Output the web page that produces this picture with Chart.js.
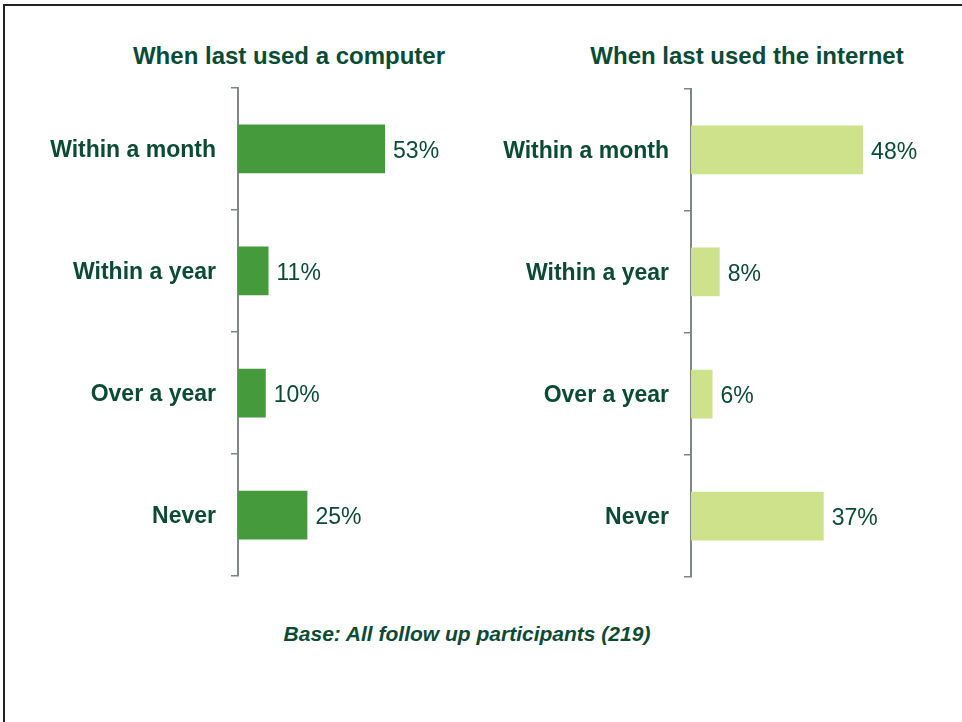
<!DOCTYPE html>
<html>
<head>
<meta charset="utf-8">
<script src="https://cdn.jsdelivr.net/npm/chart.js@4/dist/chart.umd.min.js"></script>
<style>
  body { margin: 0; background: #fff; width: 962px; height: 722px; overflow: hidden; position: relative; font-family: "Liberation Sans", Arial, sans-serif; }
  .frame { position: absolute; left: 3px; top: 4px; width: 980px; height: 740px; border-top: 2px solid #222; border-left: 2px solid #222; }
  .title { position: absolute; top: 44px; font-weight: bold; font-size: 24px; line-height: 1; color: #0b4b36; white-space: nowrap; transform: translateX(-50%); }
  .foot { position: absolute; top: 623px; left: 467px; font-weight: bold; font-style: italic; font-size: 21px; line-height: 1; color: #0b4b36; white-space: nowrap; transform: translateX(-50%); }
  .box { position: absolute; top: 59px; height: 546px; }
</style>
</head>
<body>
<div class="frame"></div>
<div class="title" style="left:289px">When last used a computer</div>
<div class="title" style="left:747px">When last used the internet</div>
<div class="box" style="left:0; width:470px"><canvas id="computerChart"></canvas></div>
<div class="box" style="left:470px; width:492px; top:60px"><canvas id="internetChart"></canvas></div>
<div class="foot">Base: All follow up participants (219)</div>
<script>
var categories = ["Within a month", "Within a year", "Over a year", "Never"];
var computerValues = [53, 11, 10, 25];
var internetValues = [48, 8, 6, 37];

var textColor = "#0b4b36";
var axisColor = "#7f8783";

// draws the "53%" labels just after each bar
var valueLabels = {
    id: "valueLabels",
    afterDatasetsDraw: function (chart) {
        var ctx = chart.ctx;
        var meta = chart.getDatasetMeta(0);
        var data = chart.data.datasets[0].data;
        ctx.save();
        ctx.font = "23px 'Liberation Sans', Arial, sans-serif";
        ctx.fillStyle = textColor;
        ctx.textBaseline = "middle";
        ctx.textAlign = "left";
        for (var i = 0; i < meta.data.length; i++) {
            var bar = meta.data[i];
            ctx.fillText(data[i] + "%", bar.x + 8, bar.y + 3);
        }
        ctx.restore();
    }
};

function createChart(targetID, values, color, axisWidth, xMax, rightPad) {
    var ctx = document.getElementById(targetID).getContext("2d");
    return new Chart(ctx, {
        type: "bar",
        data: {
            labels: categories,
            datasets: [{
                data: values,
                backgroundColor: color,
                borderWidth: 0,
                barPercentage: 0.4,
                categoryPercentage: 1
            }]
        },
        options: {
            indexAxis: "y",
            responsive: true,
            maintainAspectRatio: false,
            animation: false,
            layout: { padding: { top: 4, bottom: 4, right: rightPad, left: 0 } },
            plugins: { legend: { display: false }, tooltip: { enabled: false } },
            scales: {
                x: { display: false, min: 0, max: xMax },
                y: {
                    afterFit: function (scale) { scale.width = axisWidth; },
                    border: { display: true, color: axisColor, width: 2 },
                    grid: { offset: true, drawOnChartArea: false, drawTicks: true, tickLength: 7, color: axisColor, lineWidth: 1.5 },
                    ticks: {
                        color: textColor,
                        padding: 15,
                        labelOffset: 2,
                        font: { family: "'Liberation Sans', Arial, sans-serif", size: 23, weight: "bold" }
                    }
                }
            }
        },
        plugins: [valueLabels]
    });
}

createChart("computerChart", computerValues, "#459a3c", 238, 80, 10);
createChart("internetChart", internetValues, "#cde28a", 221, 70, 20);
</script>
</body>
</html>
